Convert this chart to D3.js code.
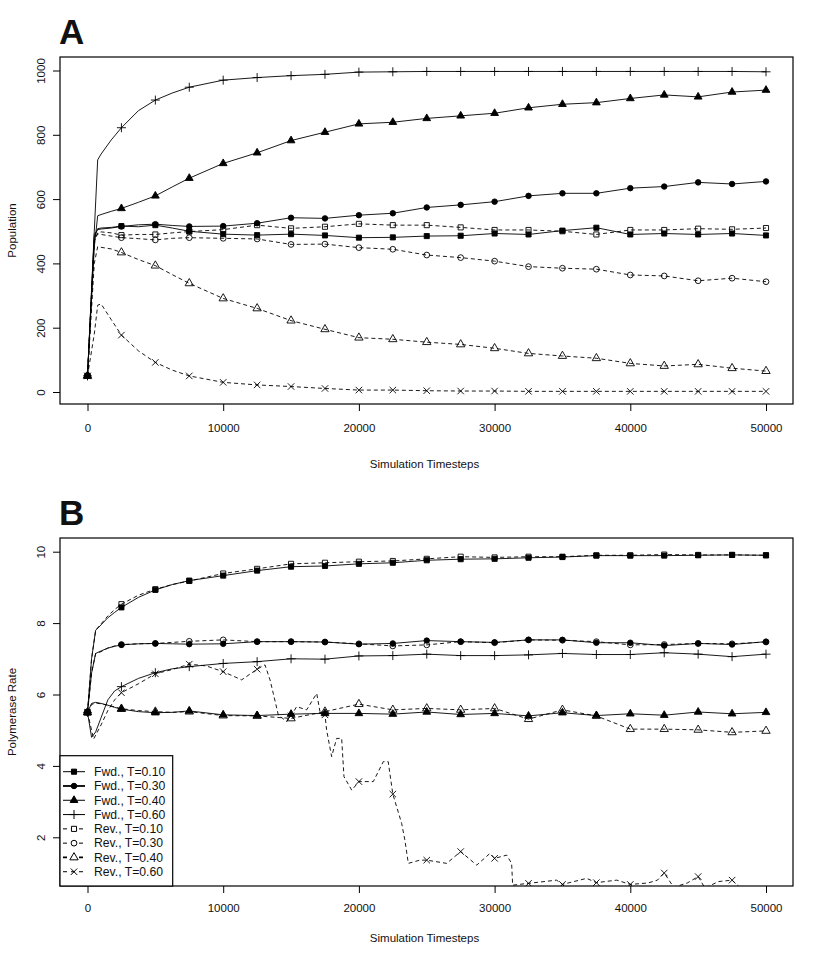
<!DOCTYPE html>
<html>
<head>
<meta charset="utf-8">
<script src="https://cdn.jsdelivr.net/npm/d3@7"></script>
<style>
  body { margin: 0; background: #fff; }
  text { font-family: "Liberation Sans", Arial, sans-serif; fill: #111; }
</style>
</head>
<body>
<script>
// Time steps (panel A), plus the values
let tA = [0, 500, 750, 1000, 1750, 2500, 3750, 5000, 6250, 7500, 10000, 12500, 15000, 17500,
  20000, 22500, 25000, 27500, 30000, 32500, 35000, 37500, 40000, 42500, 45000, 47500, 50000];

let popFwd10 = [50, 480, 508, 510, 512, 516, 514, 519, 510, 500, 491, 488, 491, 487, 480, 481, 485, 486, 493, 490, 502, 511, 490, 493, 490, 493, 487];
let popFwd30 = [50, 490, 505, 507, 510, 515, 520, 522, 518, 515, 516, 525, 542, 540, 550, 556, 574, 582, 592, 610, 618, 618, 634, 639, 652, 647, 655];
let popFwd40 = [50, 450, 548, 552, 562, 571, 590, 610, 638, 665, 711, 744, 782, 808, 834, 839, 851, 859, 867, 884, 895, 900, 913, 924, 918, 933, 939];
let popFwd60 = [50, 500, 722, 740, 784, 822, 875, 908, 930, 948, 970, 978, 984, 988, 995, 996, 997, 997, 997, 997, 997, 997, 997, 997, 997, 997, 996];
let popRev10 = [50, 470, 495, 498, 495, 488, 490, 490, 495, 499, 505, 519, 509, 514, 523, 519, 519, 512, 504, 504, 500, 490, 504, 504, 508, 506, 510];
let popRev30 = [50, 470, 492, 490, 485, 480, 477, 473, 478, 480, 478, 476, 459, 460, 449, 444, 426, 418, 407, 390, 385, 382, 364, 361, 346, 354, 343];
let popRev40 = [50, 400, 452, 450, 445, 434, 412, 393, 365, 338, 291, 260, 222, 195, 169, 164, 155, 148, 136, 120, 112, 105, 89, 81, 86, 74, 65];
let popRev60 = [50, 180, 270, 274, 225, 177, 128, 92, 68, 50, 30, 22, 17, 11, 6, 6, 4, 3, 3, 2, 2, 2, 2, 2, 2, 2, 2];

// Time steps (panel B)
let tB = [0, 300, 600, 1000, 1500, 2000, 2500, 3750, 5000, 6250, 7500, 10000, 12500, 15000, 17500,
  20000, 22500, 25000, 27500, 30000, 32500, 35000, 37500, 40000, 42500, 45000, 47500, 50000];

let rateFwd10 = [5.5, 7.0, 7.8, 7.95, 8.15, 8.3, 8.44, 8.72, 8.93, 9.08, 9.19, 9.33, 9.47, 9.58, 9.60, 9.66, 9.69, 9.76, 9.79, 9.80, 9.83, 9.85, 9.89, 9.89, 9.89, 9.90, 9.91, 9.90];
let rateFwd30 = [5.5, 6.6, 7.15, 7.22, 7.3, 7.35, 7.39, 7.42, 7.43, 7.42, 7.41, 7.42, 7.48, 7.48, 7.47, 7.41, 7.43, 7.51, 7.48, 7.46, 7.53, 7.53, 7.45, 7.45, 7.37, 7.43, 7.40, 7.48];
let rateFwd40 = [5.5, 5.75, 5.78, 5.75, 5.7, 5.64, 5.59, 5.52, 5.49, 5.5, 5.54, 5.43, 5.41, 5.45, 5.47, 5.47, 5.45, 5.51, 5.44, 5.47, 5.40, 5.49, 5.41, 5.46, 5.42, 5.51, 5.46, 5.50];
let rateFwd60 = [5.5, 4.8, 4.95, 5.35, 5.85, 6.1, 6.22, 6.45, 6.61, 6.72, 6.78, 6.87, 6.92, 7.00, 6.99, 7.08, 7.09, 7.13, 7.09, 7.09, 7.11, 7.15, 7.12, 7.12, 7.17, 7.13, 7.06, 7.13];
let rateRev10 = [5.5, 7.0, 7.8, 7.98, 8.2, 8.38, 8.53, 8.78, 8.95, 9.08, 9.18, 9.39, 9.52, 9.66, 9.69, 9.72, 9.74, 9.80, 9.86, 9.84, 9.86, 9.86, 9.90, 9.90, 9.92, 9.91, 9.91, 9.90];
let rateRev30 = [5.5, 6.6, 7.15, 7.2, 7.3, 7.36, 7.40, 7.42, 7.43, 7.46, 7.49, 7.53, 7.48, 7.48, 7.47, 7.42, 7.36, 7.39, 7.48, 7.45, 7.53, 7.52, 7.48, 7.39, 7.40, 7.43, 7.42, 7.47];
let rateRev40 = [5.5, 5.72, 5.76, 5.74, 5.7, 5.65, 5.6, 5.55, 5.52, 5.5, 5.52, 5.41, 5.40, 5.33, 5.52, 5.73, 5.57, 5.61, 5.57, 5.61, 5.31, 5.57, 5.40, 5.03, 5.03, 5.01, 4.94, 4.98];

// Rev T=0.60 in panel B is very jumpy, so it gets its own time steps
let tRev60B = [0, 450, 1000, 1500, 2000, 2500, 3750, 5000, 6250, 7500, 8750, 10000, 11360, 12500, 13080, 13450, 13690,
  14060, 14680, 15000, 15410, 16150, 16890, 17130, 17500, 17620, 17990, 18360, 18730, 18900, 19470, 20000, 21060, 21800,
  22160, 22500, 23150, 23390, 23640, 24500, 25000, 26470, 27500, 28680, 29660, 30000, 30890, 31255, 31330, 32500, 34570,
  35000, 36780, 37500, 39000, 40000, 41300, 42000, 42500, 43200, 44200, 45000, 45500, 46500, 47500, 48200, 50000];
let rateRev60 = [5.5, 4.75, 5.15, 5.55, 5.85, 6.05, 6.3, 6.58, 6.7, 6.85, 6.8, 6.64, 6.41, 6.71, 6.83, 6.41, 6.03,
  5.43, 5.24, 5.4, 5.66, 5.57, 6.03, 5.52, 5.43, 5.01, 4.26, 4.77, 4.77, 3.70, 3.32, 3.56, 3.56, 4.12,
  4.12, 3.21, 2.39, 1.92, 1.27, 1.36, 1.36, 1.27, 1.60, 1.22, 1.55, 1.41, 1.50, 1.27, 0.66, 0.71, 0.80,
  0.68, 0.85, 0.73, 0.80, 0.68, 0.72, 0.80, 1.00, 0.60, 0.72, 0.90, 0.58, 0.76, 0.80, 0.55, 0.50];

let legendLabels = ["Fwd., T=0.10", "Fwd., T=0.30", "Fwd., T=0.40", "Fwd., T=0.60",
  "Rev., T=0.10", "Rev., T=0.30", "Rev., T=0.40", "Rev., T=0.60"];
let xTicks = [0, 10000, 20000, 30000, 40000, 50000];
let yTicksA = [0, 200, 400, 600, 800, 1000];
let yTicksB = [2, 4, 6, 8, 10];

// symbols: R pch 15,16,17,3 (filled) and 0,1,2,4 (open)
let plusType = { draw(ctx, size) { let r = Math.sqrt(size) / 2; ctx.moveTo(-r, 0); ctx.lineTo(r, 0); ctx.moveTo(0, -r); ctx.lineTo(0, r); } };
let timesType = { draw(ctx, size) { let r = Math.sqrt(size) / 2; ctx.moveTo(-r, -r); ctx.lineTo(r, r); ctx.moveTo(-r, r); ctx.lineTo(r, -r); } };
let styles = [
  { type: d3.symbolSquare, size: 26, fill: true, dash: null },
  { type: d3.symbolCircle, size: 24, fill: true, dash: null },
  { type: d3.symbolTriangle, size: 26, fill: true, dash: null },
  { type: plusType, size: 81, fill: false, dash: null },
  { type: d3.symbolSquare, size: 26, fill: false, dash: "4,3" },
  { type: d3.symbolCircle, size: 26, fill: false, dash: "4,3" },
  { type: d3.symbolTriangle, size: 30, fill: false, dash: "4,3" },
  { type: timesType, size: 42, fill: false, dash: "4,3" }
];

let svg = d3.select("body").append("svg")
  .attr("width", 821)
  .attr("height", 958);

let x = d3.scaleLinear().domain([0, 50000]).range([87.5, 766]);

function drawPanel(p) {
  let g = svg.append("g");
  let y = d3.scaleLinear().domain(p.yDomain).range(p.yRange);

  g.append("clipPath").attr("id", "clip" + p.letter)
    .append("rect").attr("x", p.left).attr("y", p.top)
    .attr("width", p.right - p.left).attr("height", p.bottom - p.top);

  let plot = g.append("g").attr("clip-path", `url(#clip${p.letter})`);
  let line = d3.line().x(d => x(d[0])).y(d => y(d[1]));

  p.series.forEach((s, i) => {
    let st = styles[i];
    let pts = s.t.map((t, j) => [t, s.v[j]]);
    plot.append("path")
      .attr("d", line(pts))
      .attr("fill", "none")
      .attr("stroke", "#000")
      .attr("stroke-width", 0.9)
      .attr("stroke-dasharray", st.dash);
    // markers every 2500 steps
    plot.selectAll(null)
      .data(pts.filter(d => d[0] % 2500 === 0))
      .enter()
      .append("path")
      .attr("transform", d => `translate(${x(d[0])},${y(d[1])})`)
      .attr("d", d3.symbol().type(st.type).size(st.size))
      .attr("fill", st.fill && st.type !== plusType ? "#000" : "#fff")
      .attr("fill-opacity", st.fill ? 1 : 0)
      .attr("stroke", "#000")
      .attr("stroke-width", 0.9);
  });

  // box
  g.append("rect")
    .attr("x", p.left).attr("y", p.top)
    .attr("width", p.right - p.left).attr("height", p.bottom - p.top)
    .attr("fill", "none").attr("stroke", "#000").attr("stroke-width", 1.2);

  // x axis
  let xAxis = g.append("g")
    .attr("transform", `translate(0,${p.bottom})`)
    .call(d3.axisBottom(x).tickValues(xTicks).tickFormat(d3.format("d")).tickSize(7).tickSizeOuter(0));
  xAxis.select(".domain").remove();
  xAxis.selectAll("text").attr("y", p.tickLabelOff).attr("dy", 0)
    .style("font-size", "11.5px").style("font-family", "Liberation Sans, Arial, sans-serif").attr("fill", "#111");

  // y axis with rotated labels (R style)
  let yAxis = g.append("g")
    .attr("transform", `translate(${p.left},0)`)
    .call(d3.axisLeft(y).tickValues(p.yTicks).tickFormat(d3.format("d")).tickSize(7).tickSizeOuter(0));
  yAxis.select(".domain").remove();
  yAxis.selectAll("text")
    .attr("x", 0).attr("dy", 0)
    .attr("transform", "translate(-15.5,0) rotate(-90)")
    .attr("text-anchor", "middle")
    .style("font-size", "11.5px").style("font-family", "Liberation Sans, Arial, sans-serif").attr("fill", "#111");

  g.append("text")
    .attr("x", (p.left + p.right) / 2 - 2).attr("y", p.bottom + p.titleOff)
    .attr("text-anchor", "middle").style("font-size", "11.5px")
    .text("Simulation Timesteps");

  g.append("text")
    .attr("transform", `translate(16,${(p.top + p.bottom) / 2}) rotate(-90)`)
    .attr("text-anchor", "middle").style("font-size", "11.5px")
    .text(p.yTitle);

  g.append("text")
    .attr("x", 59).attr("y", p.top - 13.5)
    .style("font-size", "35px").style("font-weight", "bold")
    .attr("fill", "#000")
    .text(p.letter);
  return { g, y };
}

drawPanel({
  letter: "A", left: 60, right: 793, top: 57, bottom: 404, tickLabelOff: 28, titleOff: 64,
  yDomain: [0, 1000], yRange: [392, 70.5], yTicks: yTicksA, yTitle: "Population",
  series: [popFwd10, popFwd30, popFwd40, popFwd60, popRev10, popRev30, popRev40, popRev60].map(v => ({ t: tA, v: v }))
});

let panelB = drawPanel({
  letter: "B", left: 60, right: 793, top: 538, bottom: 886, tickLabelOff: 26, titleOff: 56,
  yDomain: [2, 10], yRange: [837.3, 551.7], yTicks: yTicksB, yTitle: "Polymerase Rate",
  series: [rateFwd10, rateFwd30, rateFwd40, rateFwd60, rateRev10, rateRev30, rateRev40].map(v => ({ t: tB, v: v }))
    .concat([{ t: tRev60B, v: rateRev60 }])
});

// legend (bottom left of panel B)
let leg = panelB.g.append("g");
leg.append("rect")
  .attr("x", 60).attr("y", 755.7).attr("width", 112.7).attr("height", 130.3)
  .attr("fill", "#fff").attr("stroke", "#000").attr("stroke-width", 1.2);

legendLabels.forEach((lab, i) => {
  let st = styles[i];
  let ly = 771.7 + i * 14.29;
  leg.append("line")
    .attr("x1", 63).attr("x2", 85).attr("y1", ly).attr("y2", ly)
    .attr("stroke", "#000")
    .attr("stroke-width", (i === 1 || i === 6) ? 1.8 : 1)
    .attr("stroke-dasharray", st.dash ? "4,4" : null);
  leg.append("path")
    .attr("transform", `translate(74,${ly})`)
    .attr("d", d3.symbol().type(st.type).size(st.size))
    .attr("fill", st.fill && st.type !== plusType ? "#000" : "#fff")
    .attr("stroke", "#000").attr("stroke-width", 1);
  leg.append("text")
    .attr("x", 94).attr("y", ly + 4.3)
    .style("font-size", "12.2px")
    .text(lab);
});
</script>
</body>
</html>
